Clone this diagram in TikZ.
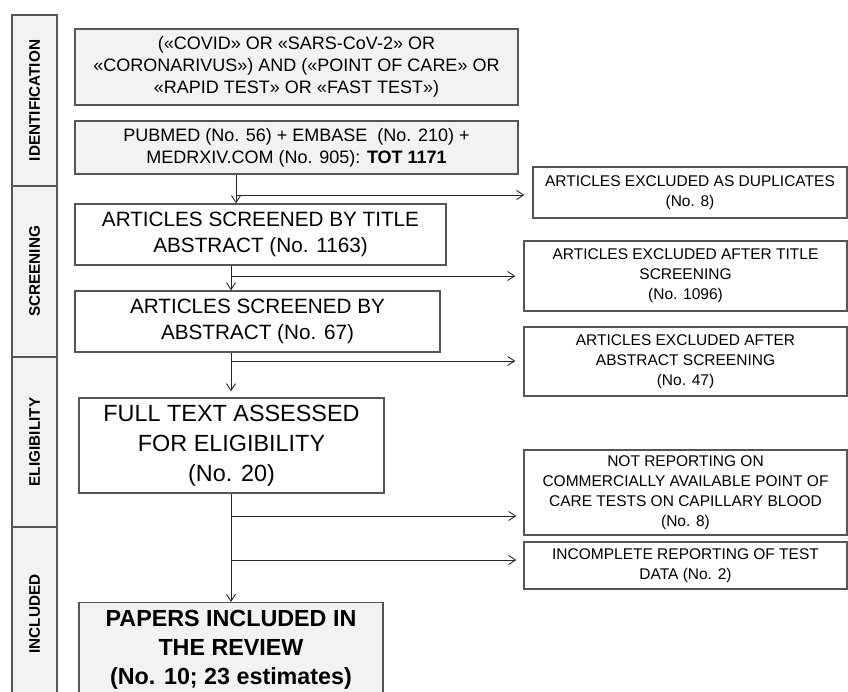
\documentclass[tikz,border=0pt]{standalone}
\usepackage{fontspec}
\setmainfont{Liberation Sans}
\usetikzlibrary{arrows.meta}

\begin{document}
\begin{tikzpicture}[x=1pt, y=-1pt, >={Straight Barb[length=7pt, width=9pt]}]
  % Clip the scene to the page size of the original figure
  \useasboundingbox (0,0) rectangle (848,691);
  \clip (0,0) rectangle (848,691);

  % ==========================================
  % 1. COLORS & STYLES
  % ==========================================
  \definecolor{frameGray}{RGB}{85, 85, 85}  % Box outlines
  \definecolor{wireGray}{RGB}{40, 40, 40}   % Connectors
  \definecolor{paneGray}{RGB}{242, 242, 242} % Shaded boxes

  \tikzset{
    stagecell/.style={
      draw=frameGray, line width=1.2pt, fill=paneGray, rotate=90,
      inner sep=0pt, minimum height=45pt,
      font=\fontsize{15.3}{18}\selectfont\bfseries
    },
    flowbox/.style={
      draw=frameGray, line width=1.2pt, fill=white, align=center, inner sep=0pt
    },
    exclbox/.style={
      flowbox, minimum width=323pt, font=\fontsize{15.5}{20}\selectfont
    },
    wire/.style={draw=wireGray, line width=0.9pt}
  }

  % ==========================================
  % 2. STAGE COLUMN
  % ==========================================
  \node[stagecell, minimum width=171pt] (stIdent)  at (34.5, 100.5) {IDENTIFICATION};
  \node[stagecell, minimum width=171pt] (stScreen) at (34.5, 271.5) {SCREENING};
  \node[stagecell, minimum width=170pt] (stElig)   at (34.5, 442)   {ELIGIBILITY};
  \node[stagecell, minimum width=174pt] (stIncl)   at (34.5, 614)   {INCLUDED};

  % ==========================================
  % 3. MAIN FLOW
  % ==========================================
  \node[flowbox, fill=paneGray, minimum width=443pt, minimum height=76pt,
        font=\fontsize{18}{22}\selectfont] (query) at (296.5, 67)
    {(«COVID» OR «SARS-CoV-2» OR\\«CORONARIVUS») AND («POINT OF CARE» OR\\«RAPID TEST» OR «FAST TEST»)};
  \node[flowbox, fill=paneGray, minimum width=443pt, minimum height=53pt,
        font=\fontsize{18}{22}\selectfont] (sources) at (296.5, 147.5)
    {PUBMED (No. 56) + EMBASE~ (No. 210) +\\MEDRXIV.COM (No. 905): \textbf{TOT 1171}};

  \node[flowbox, minimum width=371pt, minimum height=61pt,
        font=\fontsize{20.7}{26.7}\selectfont] (byTitle) at (260.5, 234.5)
    {ARTICLES SCREENED BY TITLE\\ABSTRACT (No. 1163)};
  \node[flowbox, minimum width=365pt, minimum height=61pt,
        font=\fontsize{20.7}{26.7}\selectfont] (byAbstract) at (257.5, 321.5)
    {ARTICLES SCREENED BY\\ABSTRACT (No. 67)};

  \node[flowbox, minimum width=305pt, minimum height=95pt,
        font=\fontsize{23.4}{30}\selectfont] (fullText) at (231.5, 445.5)
    {FULL TEXT ASSESSED\\FOR ELIGIBILITY\\(No. 20)};

  % Last box runs past the lower edge of the page
  \node[flowbox, fill=paneGray, anchor=north, minimum width=304pt, inner ysep=8pt,
        font=\bfseries\fontsize{23.3}{29}\selectfont] (included) at (231, 602)
    {PAPERS INCLUDED IN\\THE REVIEW\\(No. 10; 23 estimates)};

  % --- Exclusion boxes ---
  \node[exclbox, minimum width=314pt, minimum height=51pt] (exDup) at (690, 192.5)
    {ARTICLES EXCLUDED AS DUPLICATES\\(No. 8)};
  \node[exclbox, minimum height=70pt] (exTitle) at (685.5, 276)
    {ARTICLES EXCLUDED AFTER TITLE\\SCREENING\\(No. 1096)};
  \node[exclbox, minimum height=69pt] (exAbstract) at (685.5, 361.5)
    {ARTICLES EXCLUDED AFTER\\ABSTRACT SCREENING\\(No. 47)};
  \node[exclbox, minimum height=85pt] (exCommercial) at (685.5, 492.5)
    {NOT REPORTING ON\\COMMERCIALLY AVAILABLE POINT OF\\CARE TESTS ON CAPILLARY BLOOD\\(No. 8)};
  \node[exclbox, minimum height=47pt] (exIncomplete) at (685.5, 565.5)
    {INCOMPLETE REPORTING OF TEST\\DATA (No. 2)};

  % ==========================================
  % 4. CONNECTORS
  % ==========================================
  % Branch points on the vertical trunks
  \coordinate (jDup)        at (236, 195);
  \coordinate (jTitle)      at (231, 276);
  \coordinate (jAbstract)   at (231, 361);
  \coordinate (jCommercial) at (231, 516);
  \coordinate (jIncomplete) at (231, 560);

  \draw[wire, ->] (sources.south -| jDup) -- (byTitle.north -| jDup);
  \draw[wire, ->, shorten >=8pt] (jDup) -- (jDup -| exDup.west);

  \draw[wire, ->] (byTitle.south -| jTitle) -- (byAbstract.north -| jTitle);
  \draw[wire, ->, shorten >=8pt] (jTitle) -- (jTitle -| exTitle.west);

  \draw[wire, ->, shorten >=6pt] (byAbstract.south -| jAbstract) -- (fullText.north -| jAbstract);
  \draw[wire, ->, shorten >=8pt] (jAbstract) -- (jAbstract -| exAbstract.west);

  \draw[wire, ->] (fullText.south -| jCommercial) -- (included.north -| jCommercial);
  \draw[wire, ->, shorten >=7pt] (jCommercial) -- (jCommercial -| exCommercial.west);
  \draw[wire, ->, shorten >=7pt] (jIncomplete) -- (jIncomplete -| exIncomplete.west);

\end{tikzpicture}
\end{document}
